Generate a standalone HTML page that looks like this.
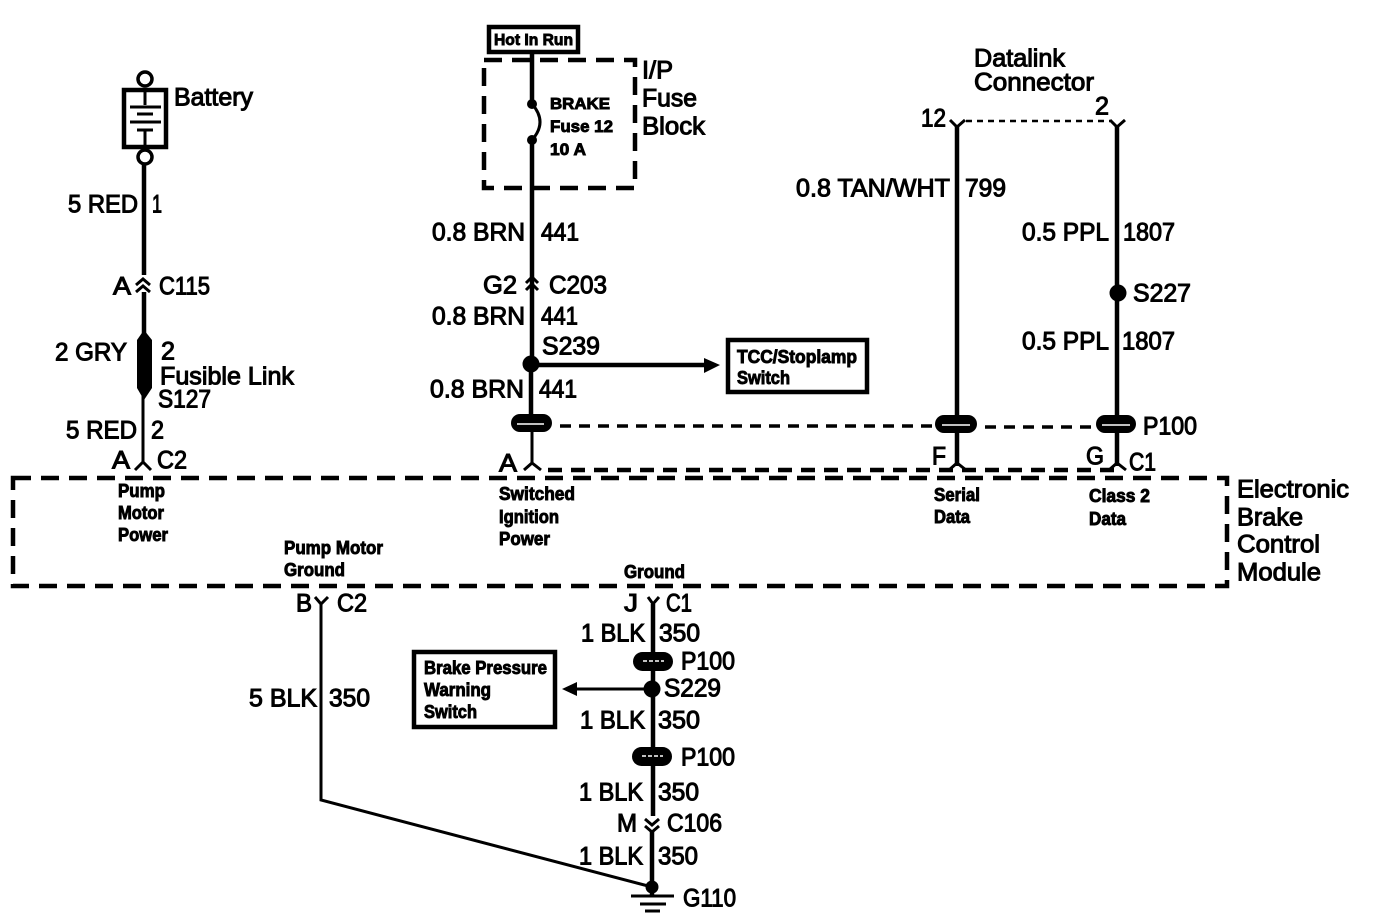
<!DOCTYPE html>
<html>
<head>
<meta charset="utf-8">
<style>
html,body{margin:0;padding:0;background:#fff;width:1376px;height:918px;overflow:hidden}
svg{display:block}
text{font-family:"Liberation Sans",sans-serif;fill:#000;stroke:#000}
.b{font-size:25px;stroke-width:1.05px;transform:translateY(-.7px)}
.s{font-size:18px;font-weight:bold;stroke-width:.9px}
.w{stroke:#000;fill:none;stroke-width:4.5}
.t{stroke:#000;fill:none;stroke-width:3}
.d{stroke:#000;fill:none;stroke-width:4.5;stroke-dasharray:18 10}
.o{fill:#000;stroke:none}
.l{stroke:#fff;stroke-width:1.5;fill:none}
</style>
</head>
<body>
<svg width="1376" height="918" viewBox="0 0 1376 918" xmlns="http://www.w3.org/2000/svg">
<rect width="1376" height="918" fill="#fff" stroke="none"/>

<!-- Battery -->
<circle cx="145" cy="79" r="7" fill="#fff" stroke="#000" stroke-width="3.5"/>
<rect x="124" y="90" width="42" height="57" fill="none" stroke="#000" stroke-width="4.5"/>
<path class="t" d="M145 90V105M130 107H161M137 114H153M130 122H161M137 130H153M145 130V147"/>
<circle cx="145" cy="157" r="7" fill="#fff" stroke="#000" stroke-width="3.5"/>
<path class="w" d="M144 164V275M144 292V338"/>
<path class="t" d="M136 285L143 279L150 285M136 292L143 286L150 292"/>
<path class="o" d="M144 330L152 340V388L144 400L137 388V340Z"/>
<path class="t" d="M143 394V464M135 470L143 462L151 470"/>

<text class="b" x="174" y="106" textLength="79" lengthAdjust="spacingAndGlyphs">Battery</text>
<text class="b" x="68" y="213" textLength="70" lengthAdjust="spacingAndGlyphs">5 RED</text>
<text class="b" x="152" y="213" textLength="10" lengthAdjust="spacingAndGlyphs">1</text>
<text class="b" x="113" y="295" textLength="18" lengthAdjust="spacingAndGlyphs">A</text>
<text class="b" x="159" y="295" textLength="51" lengthAdjust="spacingAndGlyphs">C115</text>
<text class="b" x="55" y="361" textLength="72" lengthAdjust="spacingAndGlyphs">2 GRY</text>
<text class="b" x="161" y="360" textLength="14" lengthAdjust="spacingAndGlyphs">2</text>
<text class="b" x="160" y="385" textLength="134" lengthAdjust="spacingAndGlyphs">Fusible Link</text>
<text class="b" x="158" y="408" textLength="53" lengthAdjust="spacingAndGlyphs">S127</text>
<text class="b" x="66" y="439" textLength="71" lengthAdjust="spacingAndGlyphs">5 RED</text>
<text class="b" x="151" y="439" textLength="13" lengthAdjust="spacingAndGlyphs">2</text>
<text class="b" x="112" y="469" textLength="18" lengthAdjust="spacingAndGlyphs">A</text>
<text class="b" x="157" y="469" textLength="30" lengthAdjust="spacingAndGlyphs">C2</text>

<!-- Module -->
<rect class="d" x="13" y="478" width="1214" height="108"/>
<path class="d" d="M548 470H1117" style="stroke-dasharray:14 9"/>
<text class="s" x="118" y="497" textLength="47" lengthAdjust="spacingAndGlyphs">Pump</text>
<text class="s" x="118" y="519" textLength="46" lengthAdjust="spacingAndGlyphs">Motor</text>
<text class="s" x="118" y="541" textLength="50" lengthAdjust="spacingAndGlyphs">Power</text>
<text class="s" x="499" y="500" textLength="76" lengthAdjust="spacingAndGlyphs">Switched</text>
<text class="s" x="499" y="523" textLength="60" lengthAdjust="spacingAndGlyphs">Ignition</text>
<text class="s" x="499" y="545" textLength="51" lengthAdjust="spacingAndGlyphs">Power</text>
<text class="s" x="284" y="554" textLength="99" lengthAdjust="spacingAndGlyphs">Pump Motor</text>
<text class="s" x="284" y="576" textLength="61" lengthAdjust="spacingAndGlyphs">Ground</text>
<text class="s" x="624" y="578" textLength="61" lengthAdjust="spacingAndGlyphs">Ground</text>
<text class="s" x="934" y="501" textLength="46" lengthAdjust="spacingAndGlyphs">Serial</text>
<text class="s" x="934" y="523" textLength="36" lengthAdjust="spacingAndGlyphs">Data</text>
<text class="s" x="1089" y="502" textLength="61" lengthAdjust="spacingAndGlyphs">Class 2</text>
<text class="s" x="1089" y="525" textLength="37" lengthAdjust="spacingAndGlyphs">Data</text>
<text class="b" x="1237" y="498" textLength="112" lengthAdjust="spacingAndGlyphs">Electronic</text>
<text class="b" x="1237" y="526" textLength="66" lengthAdjust="spacingAndGlyphs">Brake</text>
<text class="b" x="1237" y="553" textLength="83" lengthAdjust="spacingAndGlyphs">Control</text>
<text class="b" x="1237" y="581" textLength="84" lengthAdjust="spacingAndGlyphs">Module</text>

<!-- Fuse block -->
<rect x="489" y="27" width="89" height="25" fill="none" stroke="#000" stroke-width="4.5"/>
<text class="s" x="494" y="45" textLength="79" lengthAdjust="spacingAndGlyphs" style="font-size:16px">Hot In Run</text>
<rect class="d" x="484" y="60" width="151" height="128"/>
<path class="w" d="M532 53V104M532 140V360"/>
<circle class="o" cx="532" cy="104" r="5"/>
<circle class="o" cx="532" cy="140" r="5"/>
<path class="w" d="M532 104Q548 122 532 140" style="stroke-width:3"/>
<text class="s" x="550" y="109" textLength="60" lengthAdjust="spacingAndGlyphs" style="font-size:16px">BRAKE</text>
<text class="s" x="550" y="132" textLength="63" lengthAdjust="spacingAndGlyphs" style="font-size:17px">Fuse 12</text>
<text class="s" x="550" y="155" textLength="36" lengthAdjust="spacingAndGlyphs" style="font-size:17px">10 A</text>
<text class="b" x="642" y="79" textLength="31" lengthAdjust="spacingAndGlyphs">I/P</text>
<text class="b" x="642" y="107" textLength="55" lengthAdjust="spacingAndGlyphs">Fuse</text>
<text class="b" x="642" y="135" textLength="63" lengthAdjust="spacingAndGlyphs">Block</text>

<text class="b" x="432" y="241" textLength="93" lengthAdjust="spacingAndGlyphs">0.8 BRN</text>
<text class="b" x="541" y="241" textLength="38" lengthAdjust="spacingAndGlyphs">441</text>
<text class="b" x="483" y="294" textLength="34" lengthAdjust="spacingAndGlyphs">G2</text>
<text class="b" x="549" y="294" textLength="58" lengthAdjust="spacingAndGlyphs">C203</text>
<path d="M526 283L532 277L538 283M526 290L532 284L538 290" fill="none" stroke="#000" stroke-width="3"/>
<text class="b" x="432" y="325" textLength="93" lengthAdjust="spacingAndGlyphs">0.8 BRN</text>
<text class="b" x="541" y="325" textLength="37" lengthAdjust="spacingAndGlyphs">441</text>
<text class="b" x="542" y="355" textLength="58" lengthAdjust="spacingAndGlyphs">S239</text>
<circle class="o" cx="531" cy="364" r="8.5"/>
<path class="w" d="M531 365H706M531 364V424"/>
<path class="o" d="M704 358L720 365L704 373Z"/>
<rect x="728" y="340" width="139" height="52" fill="none" stroke="#000" stroke-width="4.5"/>
<text class="s" x="737" y="363" textLength="120" lengthAdjust="spacingAndGlyphs">TCC/Stoplamp</text>
<text class="s" x="737" y="384" textLength="53" lengthAdjust="spacingAndGlyphs">Switch</text>
<text class="b" x="430" y="398" textLength="94" lengthAdjust="spacingAndGlyphs">0.8 BRN</text>
<text class="b" x="539" y="398" textLength="38" lengthAdjust="spacingAndGlyphs">441</text>

<!-- P100 row -->
<path class="d" style="stroke-dasharray:11 8;stroke-width:3.5" d="M560 426H940M985 427H1098"/>
<rect class="o" x="511" y="414" width="41" height="18" rx="9"/>
<path class="l" d="M517 424H544"/>
<path class="t" d="M532 432V463M524 470L532 463L541 470"/>
<text class="b" x="499" y="472" textLength="18" lengthAdjust="spacingAndGlyphs">A</text>

<rect class="o" x="935" y="415" width="42" height="18" rx="9"/>
<path class="l" d="M942 425H970"/>
<rect class="o" x="1096" y="415" width="40" height="18" rx="9"/>
<path class="l" d="M1102 425H1130"/>
<text class="b" x="1143" y="435" textLength="54" lengthAdjust="spacingAndGlyphs">P100</text>
<path class="w" d="M957 126V415M1117 126V415M957 433V466M1117 433V466"/>
<path class="t" d="M949 470L957 463L966 470M1109 470L1117 463L1126 470"/>
<text class="b" x="932" y="465" textLength="14" lengthAdjust="spacingAndGlyphs">F</text>
<text class="b" x="1086" y="465" textLength="18" lengthAdjust="spacingAndGlyphs">G</text>
<text class="b" x="1129" y="471" textLength="27" lengthAdjust="spacingAndGlyphs">C1</text>

<!-- Datalink -->
<text class="b" x="974" y="67" textLength="91" lengthAdjust="spacingAndGlyphs">Datalink</text>
<text class="b" x="974" y="91" textLength="120" lengthAdjust="spacingAndGlyphs">Connector</text>
<text class="b" x="921" y="127" textLength="25" lengthAdjust="spacingAndGlyphs">12</text>
<text class="b" x="1095" y="115" textLength="14" lengthAdjust="spacingAndGlyphs">2</text>
<path d="M966 121H1110" fill="none" stroke="#000" stroke-width="2.5" stroke-dasharray="6 5"/>
<path class="t" d="M950 120L957 127L965 120M1110 120L1117 127L1125 120"/>
<text class="b" x="796" y="197" textLength="154" lengthAdjust="spacingAndGlyphs">0.8 TAN/WHT</text>
<text class="b" x="965" y="197" textLength="41" lengthAdjust="spacingAndGlyphs">799</text>
<text class="b" x="1022" y="241" textLength="87" lengthAdjust="spacingAndGlyphs">0.5 PPL</text>
<text class="b" x="1123" y="241" textLength="52" lengthAdjust="spacingAndGlyphs">1807</text>
<circle class="o" cx="1118" cy="293" r="8.5"/>
<text class="b" x="1133" y="302" textLength="58" lengthAdjust="spacingAndGlyphs">S227</text>
<text class="b" x="1022" y="350" textLength="87" lengthAdjust="spacingAndGlyphs">0.5 PPL</text>
<text class="b" x="1122" y="350" textLength="53" lengthAdjust="spacingAndGlyphs">1807</text>

<!-- Lower left -->
<text class="b" x="296" y="612" textLength="16" lengthAdjust="spacingAndGlyphs">B</text>
<text class="b" x="337" y="612" textLength="30" lengthAdjust="spacingAndGlyphs">C2</text>
<path class="t" d="M315 597L321 604L328 597M321 604V800L652 887"/>
<text class="b" x="249" y="707" textLength="68" lengthAdjust="spacingAndGlyphs">5 BLK</text>
<text class="b" x="329" y="707" textLength="41" lengthAdjust="spacingAndGlyphs">350</text>

<!-- Lower center -->
<text class="b" x="624" y="612" textLength="14" lengthAdjust="spacingAndGlyphs">J</text>
<text class="b" x="666" y="612" textLength="26" lengthAdjust="spacingAndGlyphs">C1</text>
<path class="t" d="M648 597L653 604L659 597"/>
<path class="w" d="M653 604V816M652 830V888"/>
<text class="b" x="581" y="642" textLength="64" lengthAdjust="spacingAndGlyphs">1 BLK</text>
<text class="b" x="659" y="642" textLength="41" lengthAdjust="spacingAndGlyphs">350</text>
<rect class="o" x="633" y="652" width="40" height="19" rx="9.5"/>
<path d="M643 661H664" stroke="#fff" stroke-width="1.5" stroke-dasharray="4 2" fill="none"/>
<text class="b" x="681" y="670" textLength="54" lengthAdjust="spacingAndGlyphs">P100</text>
<circle class="o" cx="652" cy="689" r="8.5"/>
<path class="t" d="M652 689H575"/>
<path class="o" d="M562 689L577 682V696Z"/>
<text class="b" x="664" y="697" textLength="57" lengthAdjust="spacingAndGlyphs">S229</text>
<rect x="414" y="652" width="141" height="75" fill="none" stroke="#000" stroke-width="4.5"/>
<text class="s" x="424" y="674" textLength="123" lengthAdjust="spacingAndGlyphs">Brake Pressure</text>
<text class="s" x="424" y="696" textLength="67" lengthAdjust="spacingAndGlyphs">Warning</text>
<text class="s" x="424" y="718" textLength="53" lengthAdjust="spacingAndGlyphs">Switch</text>
<text class="b" x="580" y="729" textLength="65" lengthAdjust="spacingAndGlyphs">1 BLK</text>
<text class="b" x="658" y="729" textLength="42" lengthAdjust="spacingAndGlyphs">350</text>
<rect class="o" x="632" y="747" width="40" height="19" rx="9.5"/>
<path d="M642 756H663" stroke="#fff" stroke-width="1.5" stroke-dasharray="4 2" fill="none"/>
<text class="b" x="681" y="766" textLength="54" lengthAdjust="spacingAndGlyphs">P100</text>
<text class="b" x="579" y="801" textLength="64" lengthAdjust="spacingAndGlyphs">1 BLK</text>
<text class="b" x="658" y="801" textLength="41" lengthAdjust="spacingAndGlyphs">350</text>
<text class="b" x="617" y="832" textLength="20" lengthAdjust="spacingAndGlyphs">M</text>
<text class="b" x="667" y="832" textLength="55" lengthAdjust="spacingAndGlyphs">C106</text>
<path class="t" d="M645 819L652 825L659 819M645 826L652 832L659 826"/>
<text class="b" x="579" y="865" textLength="64" lengthAdjust="spacingAndGlyphs">1 BLK</text>
<text class="b" x="658" y="865" textLength="40" lengthAdjust="spacingAndGlyphs">350</text>
<circle class="o" cx="652" cy="887" r="6.5"/>
<path class="w" d="M652 888V896" />
<path class="t" d="M631 896H674M640 904H666M645 911H660"/>
<text class="b" x="683" y="907" textLength="53" lengthAdjust="spacingAndGlyphs">G110</text>
</svg>
</body>
</html>
